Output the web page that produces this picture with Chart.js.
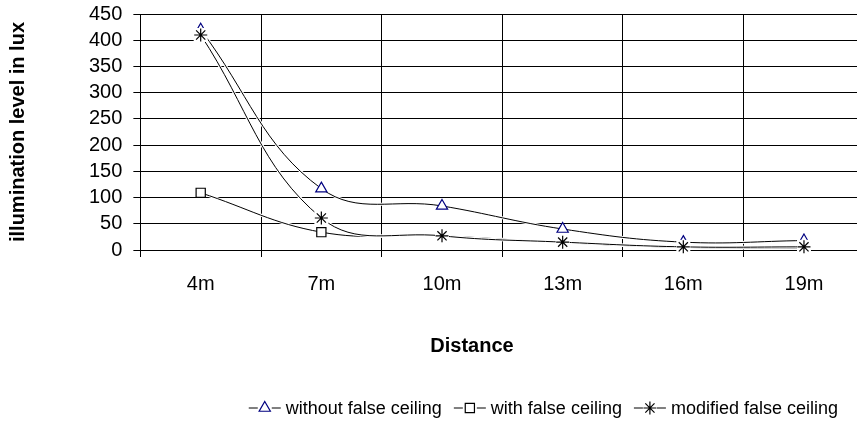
<!DOCTYPE html>
<html>
<head>
<meta charset="utf-8">
<script src="https://cdn.jsdelivr.net/npm/chart.js@4"></script>
<style>
  html, body { margin: 0; padding: 0; background: #fff; overflow: hidden; }
  #wrap { width: 872px; height: 425px; position: relative; }
</style>
</head>
<body>
<div id="wrap"><canvas id="chart"></canvas></div>
<script>
/* global Chart */

const distances = ['4m', '7m', '10m', '13m', '16m', '19m']
const withoutFalseCeiling = [420, 117, 84, 40, 15, 18]
const withFalseCeiling = [109, 34, 27, 14, 5, 4]
const modifiedFalseCeiling = [410, 61, 27, 15, 6, 6]

const yTitle = 'illumination level in lux'
const xTitle = 'Distance'
const seriesLabels = ['without false ceiling', 'with false ceiling', 'modified false ceiling']

const FONT = 'Arial, "Liberation Sans", sans-serif'

function makeDataset (label, data, pointStyle, pointColor, radius, order) {
  return {
    label,
    data,
    order,
    borderColor: '#000',
    borderWidth: 1,
    tension: 0.4,
    pointStyle,
    pointRadius: radius,
    pointBorderColor: pointColor,
    pointBackgroundColor: '#fff',
    pointBorderWidth: 1.2
  }
}

// white halo under each line, and white patches behind the asterisks
const haloPlugin = {
  id: 'halo',
  beforeDatasetDraw (chart, args) {
    const ctx = chart.ctx
    const meta = args.meta
    if (!meta.dataset) return
    ctx.save()
    const line = meta.dataset
    const opts = line.options
    const oldColor = opts.borderColor
    const oldWidth = opts.borderWidth
    opts.borderColor = '#fff'
    opts.borderWidth = 3
    line.draw(ctx, chart.chartArea)
    opts.borderColor = oldColor
    opts.borderWidth = oldWidth
    ctx.restore()
  },
  afterDatasetDraw (chart, args) {
    const meta = args.meta
    const ds = chart.data.datasets[args.index]
    if (ds.pointStyle !== 'star') return
    const ctx = chart.ctx
    ctx.save()
    meta.data.forEach((pt) => {
      ctx.fillStyle = '#fff'
      ctx.fillRect(pt.x - 7, pt.y - 7, 14, 14)
      pt.draw(ctx, chart.chartArea)
    })
    ctx.restore()
  }
}

// x title and a legend with line + marker samples
const extrasPlugin = {
  id: 'extras',
  afterDraw (chart) {
    const ctx = chart.ctx
    ctx.save()
    ctx.fillStyle = '#000'
    ctx.font = 'bold 20px ' + FONT
    ctx.textAlign = 'center'
    ctx.textBaseline = 'middle'
    ctx.fillText(xTitle, 472, 346)

    ctx.font = '18px ' + FONT
    ctx.textAlign = 'left'
    const y = 408
    const sampleW = 32
    const gap = 12
    const widths = chart.data.datasets.map((ds) => sampleW + 5 + ctx.measureText(ds.label).width)
    const total = widths.reduce((a, b) => a + b, 0) + gap * (widths.length - 1)
    let x = 838 - total
    chart.data.datasets.forEach((ds, i) => {
      ctx.strokeStyle = '#000'
      ctx.lineWidth = 1
      ctx.beginPath()
      ctx.moveTo(x, y)
      ctx.lineTo(x + sampleW, y)
      ctx.stroke()
      ctx.fillStyle = '#fff'
      ctx.fillRect(x + sampleW / 2 - 7, y - 7, 14, 14)
      ctx.strokeStyle = ds.pointBorderColor
      ctx.lineWidth = 1.2
      Chart.helpers.drawPoint(ctx, {
        pointStyle: ds.pointStyle,
        radius: ds.pointRadius,
        rotation: 0,
        borderWidth: 1.2
      }, x + sampleW / 2, y)
      ctx.fillStyle = '#000'
      ctx.fillText(ds.label, x + sampleW + 5, y + 1)
      x += widths[i] + gap
    })
    ctx.restore()
  }
}

const ctx = document.getElementById('chart').getContext('2d')
const chart = new Chart(ctx, {
  type: 'line',
  data: {
    labels: distances,
    datasets: [
      makeDataset(seriesLabels[0], withoutFalseCeiling, 'triangle', '#000080', 6.5, 2),
      makeDataset(seriesLabels[1], withFalseCeiling, 'rect', '#000', 6.5, 1),
      makeDataset(seriesLabels[2], modifiedFalseCeiling, 'star', '#000', 6.5, 0)
    ]
  },
  options: {
    responsive: true,
    maintainAspectRatio: false,
    animation: false,
    layout: {
      padding: { left: 6, right: 3, top: 14, bottom: 114 }
    },
    plugins: {
      legend: { display: false },
      tooltip: { enabled: false }
    },
    scales: {
      x: {
        offset: true,
        grid: {
          offset: true,
          color: '#000',
          lineWidth: 1,
          tickLength: 7
        },
        border: { color: '#000' },
        ticks: {
          color: '#000',
          font: { family: FONT, size: 20 },
          padding: 15,
          maxRotation: 0
        }
      },
      y: {
        min: 0,
        max: 450,
        afterFit (scale) {
          scale.paddingTop = 0
          scale.paddingBottom = 0
        },
        ticks: {
          stepSize: 50,
          autoSkip: false,
          color: '#000',
          font: { family: FONT, size: 20, lineHeight: 1 },
          padding: 11
        },
        grid: {
          color: '#000',
          lineWidth: 1,
          tickLength: 7
        },
        border: { color: '#000' },
        title: {
          display: true,
          text: yTitle,
          color: '#000',
          font: { family: FONT, size: 20, weight: 'bold' },
          padding: { top: 0, bottom: 48 }
        }
      }
    }
  },
  plugins: [haloPlugin, extrasPlugin]
})
</script>
</body>
</html>
